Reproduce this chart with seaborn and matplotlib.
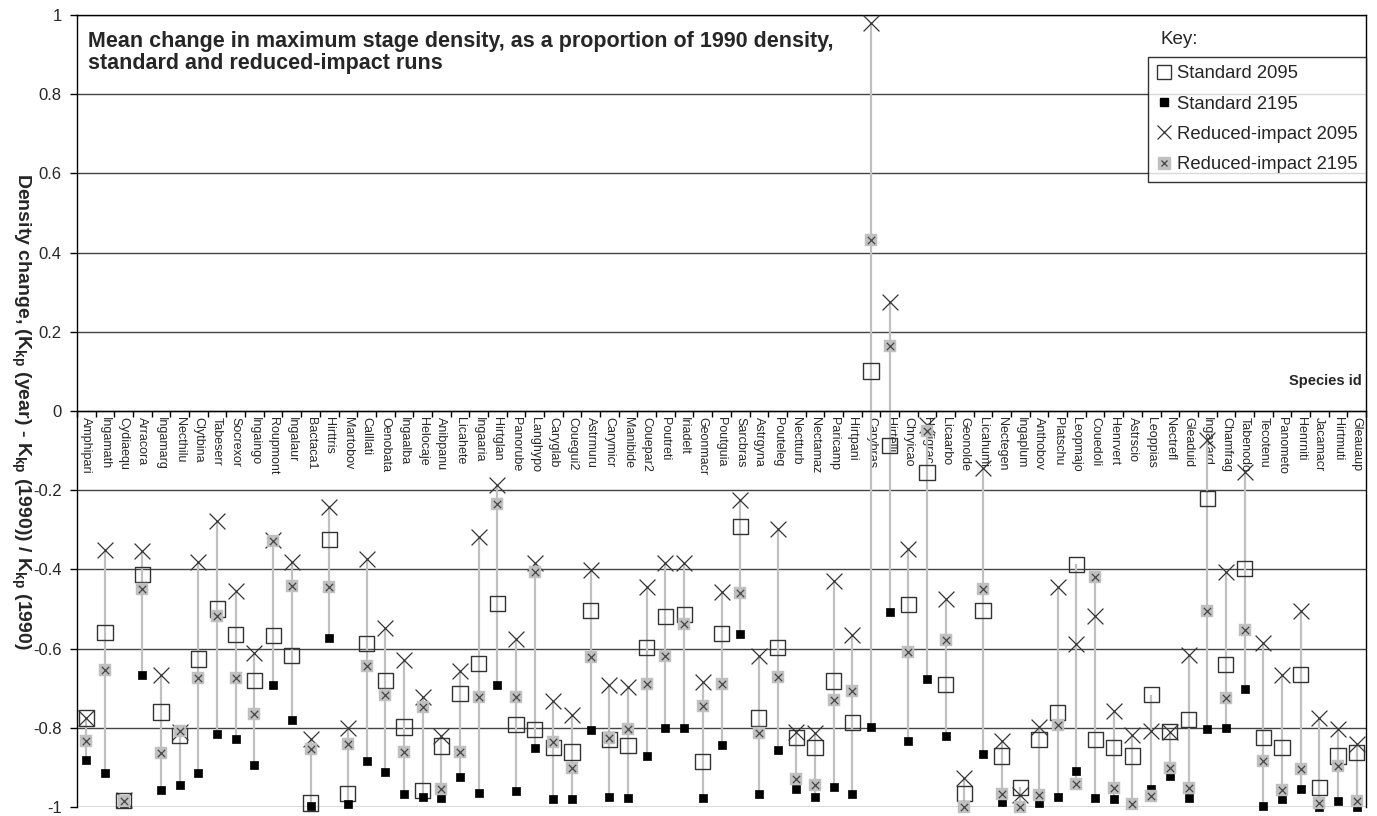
import numpy as np
import pandas as pd
import matplotlib
matplotlib.use("Agg")
import matplotlib.pyplot as plt
import seaborn as sns
from matplotlib.lines import Line2D

species = ["Amphipari", "Ingamath", "Cydiaequ", "Arracora", "Ingamarg", "Necthilu", "Clytbina",
           "Tabeserr", "Socrexor", "Ingaingo", "Roupmont", "Ingalaur", "Bactaca1", "Hirttris",
           "Martobov", "Calllati", "Oenobata", "Ingaalba", "Helocaje", "Anibpanu", "Licahete",
           "Ingaaria", "Hirtglan", "Panorube", "Langhypo", "Caryglab", "Couegui2", "Astrmuru",
           "Carymicr", "Manibide", "Couepar2", "Poutreti", "Iriadelt", "Geonmacr", "Poutguia",
           "Sarcbras", "Astrgyna", "Pouteleg", "Nectturb", "Nectamaz", "Paricamp", "Hirtpani",
           "Carybras", "Hirtelli", "Chryicao", "Hefigrac", "Licaarbo", "Geonolde", "Licahumi",
           "Nectegen", "Ingaplum", "Anthobov", "Platschu", "Leopmajo", "Couedoli", "Henrvert",
           "Astrscio", "Leoppias", "Nectrefl", "Gleaduid", "Ingaxard", "Chamfrag", "Tabenodo",
           "Tecotenu", "Panometo", "Henrniti", "Jacamacr", "Hirtmuti", "Gleauaup"]

standard_2095 = [-0.775, -0.559, -0.983, -0.413, -0.760, -0.819, -0.626, -0.500, -0.565, -0.681,
                 -0.567, -0.618, -0.990, -0.324, -0.966, -0.587, -0.681, -0.798, -0.958, -0.846,
                 -0.714, -0.637, -0.487, -0.792, -0.804, -0.850, -0.861, -0.504, -0.829, -0.844,
                 -0.598, -0.519, -0.513, -0.886, -0.561, -0.292, -0.775, -0.598, -0.825, -0.849,
                 -0.682, -0.787, 0.101, -0.088, -0.489, -0.155, -0.691, -0.966, -0.504, -0.871,
                 -0.950, -0.829, -0.762, -0.387, -0.829, -0.850, -0.871, -0.716, -0.810, -0.780,
                 -0.220, -0.640, -0.397, -0.825, -0.849, -0.666, -0.951, -0.871, -0.863]

standard_2195 = [-0.882, -0.914, -0.990, -0.666, -0.958, -0.945, -0.914, -0.815, -0.828, -0.895,
                 -0.691, -0.780, -0.998, -0.573, -0.992, -0.884, -0.912, -0.966, -0.975, -0.978,
                 -0.924, -0.964, -0.691, -0.960, -0.852, -0.981, -0.981, -0.806, -0.976, -0.978,
                 -0.871, -0.800, -0.800, -0.978, -0.844, -0.563, -0.966, -0.857, -0.955, -0.976,
                 -0.950, -0.968, -0.798, -0.508, -0.834, -0.676, -0.821, -1.000, -0.866, -0.987,
                 -0.995, -0.989, -0.975, -0.909, -0.978, -0.981, -0.990, -0.954, -0.922, -0.978,
                 -0.804, -0.800, -0.703, -0.997, -0.981, -0.955, -1.000, -0.985, -1.000]

reduced_2095 = [-0.775, -0.351, -0.983, -0.353, -0.666, -0.810, -0.382, -0.279, -0.454, -0.612,
                -0.326, -0.382, -0.828, -0.242, -0.800, -0.374, -0.548, -0.630, -0.723, -0.821,
                -0.657, -0.317, -0.188, -0.577, -0.384, -0.733, -0.768, -0.401, -0.692, -0.697,
                -0.444, -0.384, -0.384, -0.684, -0.457, -0.224, -0.619, -0.297, -0.810, -0.813,
                -0.429, -0.566, 0.980, 0.275, -0.348, -0.035, -0.474, -0.926, -0.143, -0.834,
                -0.970, -0.798, -0.444, -0.588, -0.518, -0.758, -0.817, -0.808, -0.810, -0.615,
                -0.073, -0.407, -0.155, -0.586, -0.667, -0.504, -0.775, -0.804, -0.840]

reduced_2195 = [-0.834, -0.654, -0.985, -0.450, -0.864, -0.808, -0.674, -0.517, -0.674, -0.765,
                -0.329, -0.442, -0.853, -0.445, -0.840, -0.645, -0.718, -0.861, -0.748, -0.955,
                -0.861, -0.723, -0.234, -0.723, -0.407, -0.835, -0.901, -0.620, -0.827, -0.802,
                -0.689, -0.618, -0.538, -0.746, -0.689, -0.460, -0.813, -0.672, -0.930, -0.945,
                -0.731, -0.706, 0.432, 0.164, -0.609, -0.050, -0.578, -1.000, -0.450, -0.966,
                -1.000, -0.970, -0.793, -0.943, -0.418, -0.953, -0.992, -0.972, -0.901, -0.953,
                -0.504, -0.724, -0.552, -0.884, -0.958, -0.903, -0.989, -0.897, -0.985]

ytick_values = [-1, -0.8, -0.6, -0.4, -0.2, 0, 0.2, 0.4, 0.6, 0.8, 1]
ytick_labels = ["-1", "-0.8", "-0.6", "-0.4", "-0.2", "0", "0.2", "0.4", "0.6", "0.8", "1"]
series_labels = ["Standard 2095", "Standard 2195", "Reduced-impact 2095", "Reduced-impact 2195"]

df = pd.DataFrame({"species": species, "pos": np.arange(len(species)),
                   series_labels[0]: standard_2095, series_labels[1]: standard_2195,
                   series_labels[2]: reduced_2095, series_labels[3]: reduced_2195})

sns.set_theme(style="white")
plt.rcParams["font.family"] = ["Liberation Sans", "DejaVu Sans"]
plt.rcParams["mathtext.fontset"] = "custom"
plt.rcParams["mathtext.rm"] = "Liberation Sans"
plt.rcParams["mathtext.bf"] = "Liberation Sans:bold"

fig = plt.figure(figsize=(13.77, 8.16), dpi=100)
ax = fig.add_axes([77 / 1377, 1 - 807 / 816, (1366 - 77) / 1377, (807 - 15) / 816])

# high-low lines
lo = df[series_labels].min(axis=1)
hi = df[series_labels].max(axis=1)
ax.vlines(df["pos"], lo, hi, color="#c0c0c0", lw=1.6, zorder=2)

dark = "#333333"
sns.scatterplot(data=df, x="pos", y=series_labels[0], marker="s", s=120,
                facecolor="none", edgecolor=dark, linewidth=1.0, ax=ax, zorder=3, clip_on=False)
sns.scatterplot(data=df, x="pos", y=series_labels[1], marker="s", s=36,
                color="black", edgecolor="black", linewidth=0.5, ax=ax, zorder=4, clip_on=False)
sns.scatterplot(data=df, x="pos", y=series_labels[2], marker="x", s=130,
                color=dark, linewidth=0.9, ax=ax, zorder=5, clip_on=False)
sns.scatterplot(data=df, x="pos", y=series_labels[3], marker="s", s=70,
                color="#c0c0c0", edgecolor="#c0c0c0", linewidth=0.3, ax=ax, zorder=6, clip_on=False)
sns.scatterplot(data=df, x="pos", y=series_labels[3], marker="x", s=28,
                color="#444444", linewidth=0.9, ax=ax, zorder=7, clip_on=False)

ax.set_xlim(-0.5, len(species) - 0.5)
ax.set_ylim(-1, 1)
ax.set_xlabel("")

# y axis
ax.set_yticks(ytick_values)
ax.set_yticklabels(ytick_labels)
ax.tick_params(axis="y", direction="out", length=5, width=1, color="black",
               labelsize=12, pad=6, left=True)
ax.yaxis.grid(True, color="#444444", lw=1)
ax.set_axisbelow(True)

# x axis at zero
ax.spines["bottom"].set_position(("data", 0))
for sp in ["left", "right", "top", "bottom"]:
    ax.spines[sp].set_color("black")
    ax.spines[sp].set_linewidth(1)
ax.set_xticks(np.arange(-0.5, len(species), 1))
ax.set_xticklabels([])
ax.set_xticks(df["pos"], minor=True)
ax.set_xticklabels(species, minor=True, rotation=270, fontsize=9)
ax.tick_params(axis="x", which="major", direction="out", length=4, width=1, color="black", bottom=True)
ax.tick_params(axis="x", which="minor", length=0, pad=4, bottom=True)

ax.set_ylabel(r"Density change, (K$_{\mathbf{kp}}$ (year) - K$_{\mathbf{kp}}$ (1990)) / K$_{\mathbf{kp}}$ (1990)",
              rotation=270, fontweight="bold", fontsize=14, va="center", ha="center")
ax.yaxis.set_label_coords(-0.0435, 0.5)

ax.text(0.0085, 0.980, "Mean change in maximum stage density, as a proportion of 1990 density,\n"
        "standard and reduced-impact runs", transform=ax.transAxes, ha="left", va="top",
        fontsize=15.5, fontweight="bold", linespacing=1.05)

ax.text(0.997, 0.538, "Species id", transform=ax.transAxes, ha="right", va="center",
        fontsize=10.5, fontweight="bold")

fig.text(1160 / 1377, 1 - 40 / 816, "Key:", ha="left", va="center", fontsize=13.5)

h1 = Line2D([], [], ls="none", marker="s", ms=10.5, mfc="none", mec=dark, mew=1.0)
h2 = Line2D([], [], ls="none", marker="s", ms=5.5, mfc="black", mec="black")
h3 = Line2D([], [], ls="none", marker="x", ms=10, mec=dark, mew=0.9)
h4a = Line2D([], [], ls="none", marker="s", ms=8, mfc="#c0c0c0", mec="#c0c0c0")
h4b = Line2D([], [], ls="none", marker="x", ms=5, mec="#444444", mew=0.9)
leg = fig.legend([h1, h2, h3, (h4a, h4b)], series_labels, loc="upper left",
                 bbox_to_anchor=(1148 / 1377, 1 - 57 / 816), borderaxespad=0,
                 frameon=True, fancybox=False, edgecolor="black", fontsize=13.3,
                 handlelength=0.8, handletextpad=0.3, labelspacing=0.72, borderpad=0.45)
leg.get_frame().set_linewidth(1)

fig.savefig("out.png", dpi=100)
